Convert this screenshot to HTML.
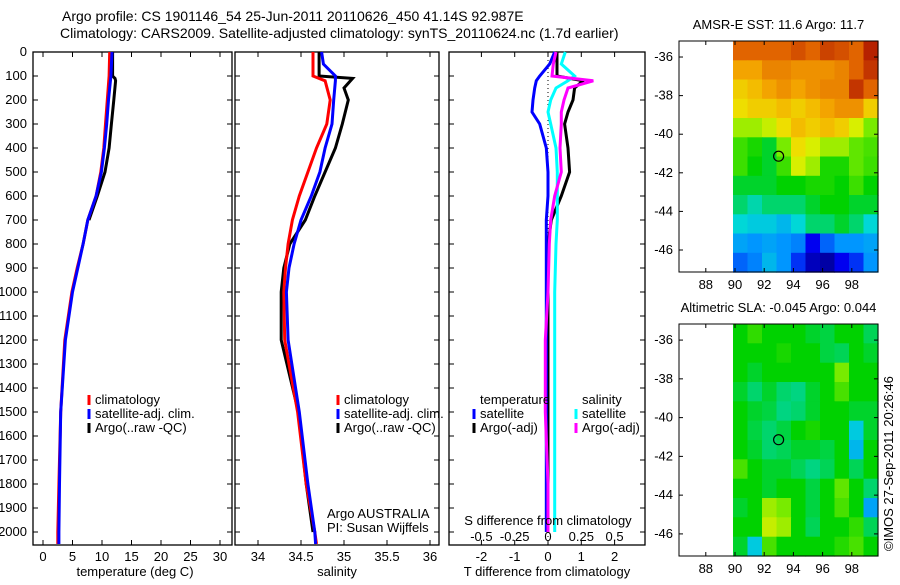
<!DOCTYPE html>
<html><head><meta charset="utf-8"><style>
body{margin:0;background:#fff;width:900px;height:580px;overflow:hidden}
svg text{font-family:"Liberation Sans",sans-serif;font-size:13px;fill:#000}
</style></head><body>
<svg id="c" width="900" height="580">
<text x="62" y="21" style="font-size:14px">Argo profile: CS 1901146_54 25-Jun-2011 20110626_450 41.14S 92.987E</text>
<text x="60" y="38" style="font-size:14px">Climatology: CARS2009. Satellite-adjusted climatology: synTS_20110624.nc (1.7d earlier)</text>
</svg>
<script>
const depthLabels=[0,100,200,300,400,500,600,700,800,900,1000,1100,1200,1300,1400,1500,1600,1700,1800,1900,2000];
const tTicks=[0,5,10,15,20,25,30];
const sTicks=[34,34.5,35,35.5,36];
const dTicks=[-2,-1,0,1,2];
const dsTicks=[-0.5,-0.25,0,0.25,0.5];
const tDepthC=[0,100,200,300,400,500,600,700,800,900,1000,1200,1500,1800,2000,2050];
const tClim=[11.3,11.2,10.9,10.6,10.3,9.8,9.0,7.6,6.8,5.8,4.9,3.7,3.0,2.7,2.5,2.5];
const tSat=[11.7,11.5,11.1,10.8,10.4,9.9,9.0,7.6,6.8,5.9,5.0,3.8,3.0,2.8,2.7,2.7];
const tDepthA=[0,100,110,120,200,300,400,500,600,700];
const tArgo=[11.8,11.8,12.2,12.3,12.0,11.6,11.2,10.5,9.2,7.8];
const sDepth=[0,50,100,120,200,300,400,500,600,700,800,900,1000,1200,1500,1800,2000,2050];
const sClim=[34.64,34.64,34.64,34.78,34.84,34.8,34.68,34.58,34.48,34.4,34.35,34.32,34.3,34.31,34.46,34.56,34.66,34.68];
const sSat=[34.74,34.76,34.9,34.9,34.88,34.86,34.78,34.72,34.62,34.5,34.42,34.36,34.33,34.35,34.48,34.58,34.66,34.67];
const sDepthA=[0,50,100,110,150,200,300,400,500,600,700,800,900,1000,1200,1500,1800,2000];
const sArgo=[34.71,34.71,34.71,35.1,35.0,35.05,34.98,34.9,34.78,34.66,34.55,34.37,34.3,34.27,34.27,34.47,34.56,34.64];
const dDepth=[0,50,100,120,150,200,250,300,400,500,600,700,800,1000,1200,1500,1800,2000];
const dTSat=[0.2,0.05,-0.25,-0.35,-0.4,-0.45,-0.48,-0.25,-0.05,0,0,-0.05,-0.05,-0.05,-0.05,-0.05,-0.05,-0.05];
const dTArgo=[0.27,0.27,0.27,1.05,0.8,0.75,0.6,0.5,0.6,0.65,0.4,0.1,0,0,0,0,0,0];
const dSSat=[0.13,0.1,0.2,0.15,0.06,0.02,0,0.02,0.06,0.07,0.07,0.07,0.06,0.05,0.05,0.05,0.05,0.05];
const dSArgo=[0.06,0.04,0.03,0.34,0.15,0.12,0.1,0.1,0.09,0.1,0.05,0.02,0.01,0.0,-0.02,-0.02,0,0];
const sstGrid=[
[0.85,0.85,0.85,0.85,0.88,0.85,0.9,0.88,0.85,0.95],
[0.75,0.75,0.8,0.8,0.78,0.78,0.78,0.8,0.85,0.92],
[0.7,0.72,0.75,0.78,0.75,0.78,0.8,0.8,0.92,0.85],
[0.68,0.7,0.7,0.72,0.7,0.72,0.75,0.78,0.78,0.7],
[0.62,0.62,0.64,0.68,0.72,0.7,0.72,0.7,0.65,0.6],
[0.55,0.52,0.48,0.6,0.68,0.65,0.62,0.62,0.58,0.56],
[0.55,0.5,0.48,0.55,0.65,0.62,0.52,0.52,0.58,0.55],
[0.48,0.48,0.48,0.5,0.5,0.52,0.52,0.5,0.55,0.5],
[0.45,0.42,0.45,0.45,0.45,0.48,0.5,0.5,0.48,0.48],
[0.4,0.38,0.38,0.35,0.4,0.45,0.45,0.48,0.45,0.4],
[0.32,0.3,0.32,0.3,0.28,0.15,0.25,0.3,0.3,0.32],
[0.25,0.28,0.35,0.3,0.2,0.08,0.05,0.15,0.2,0.3]];
const slaGrid=[
[0.5,0.54,0.5,0.5,0.5,0.48,0.47,0.5,0.5,0.46],
[0.5,0.5,0.5,0.52,0.5,0.5,0.47,0.46,0.5,0.48],
[0.5,0.48,0.5,0.5,0.5,0.5,0.5,0.6,0.5,0.5],
[0.48,0.45,0.48,0.45,0.44,0.48,0.5,0.56,0.5,0.5],
[0.5,0.48,0.47,0.44,0.45,0.48,0.5,0.5,0.48,0.48],
[0.5,0.47,0.45,0.47,0.5,0.52,0.5,0.5,0.38,0.48],
[0.5,0.48,0.45,0.46,0.48,0.48,0.47,0.5,0.35,0.5],
[0.56,0.5,0.48,0.48,0.46,0.44,0.46,0.5,0.46,0.5],
[0.5,0.5,0.48,0.5,0.5,0.47,0.5,0.58,0.5,0.45],
[0.48,0.5,0.62,0.6,0.5,0.47,0.5,0.56,0.5,0.32],
[0.5,0.5,0.64,0.62,0.5,0.46,0.5,0.5,0.54,0.46],
[0.48,0.38,0.56,0.5,0.5,0.5,0.5,0.53,0.56,0.5]];
const latTicks=[-36,-38,-40,-42,-44,-46];
const lonTicks=[88,90,92,94,96,98];

const svg=document.getElementById('c');const NS='http://www.w3.org/2000/svg';
function mk(t,a,txt){const e=document.createElementNS(NS,t);for(const k in a)e.setAttribute(k,a[k]);if(txt!==undefined)e.textContent=txt;svg.appendChild(e);return e;}
const Y0=52,Y1=545;const yD=d=>Y0+d*0.24;
function panel(name,x0,x1){const r=mk('rect',{x:x0,y:Y0,width:x1-x0,height:Y1-Y0,fill:'none',stroke:'#000','stroke-width':1.3});

depthLabels.forEach(d=>{const y=yD(d);const l=mk('line',{x1:x0,x2:x0+5,y1:y,y2:y,stroke:'#000'});
const l2=mk('line',{x1:x1-5,x2:x1,y1:y,y2:y,stroke:'#000'});});}
function xticks(vals,fx,lab,y){vals.forEach(v=>{const x=fx(v);
const a=mk('line',{x1:x,x2:x,y1:Y0,y2:Y0+5,stroke:'#000'});
const b=mk('line',{x1:x,x2:x,y1:Y1-5,y2:Y1,stroke:'#000'});
if(lab){const t=mk('text',{x:x,y:y,'text-anchor':'middle'},String(v));}});}
function line(name,xs,ds,fx,col,w){const p=xs.map((v,i)=>fx(v).toFixed(1)+','+yD(ds[i]).toFixed(1)).join(' ');
const e=mk('polyline',{points:p,fill:'none',stroke:col,'stroke-width':w||3});}
depthLabels.forEach(d=>{const t=mk('text',{x:27,y:yD(d)+4,'text-anchor':'end'},String(d));});
const fT=v=>43+5.9*v;
panel('temperature-panel',33,232);xticks(tTicks,fT,true,561);
line('temp-argo',tArgo,tDepthA,fT,'#000');line('temp-climatology',tClim,tDepthC,fT,'#f00');line('temp-satellite',tSat,tDepthC,fT,'#00f');
const fS=v=>258+86*(v-34);
panel('salinity-panel',235,439);xticks(sTicks,fS,true,561);
line('sal-argo',sArgo,sDepthA,fS,'#000');line('sal-climatology',sClim,sDepth,fS,'#f00');line('sal-satellite',sSat,sDepth,fS,'#00f');
const fD=v=>548+33.3*v, fDS=v=>548+133.2*v;
panel('difference-panel',449,645);xticks(dTicks,fD,true,561);
dsTicks.forEach(v=>{const t=mk('text',{x:fDS(v),y:541,'text-anchor':'middle'},String(v));});
const z=mk('line',{x1:fD(0),x2:fD(0),y1:Y0,y2:Y1,stroke:'#000','stroke-dasharray':'1,3'});
line('tdiff-argo',dTArgo,dDepth,fD,'#000');line('tdiff-satellite',dTSat,dDepth,fD,'#00f');
line('sdiff-satellite',dSSat,dDepth,fDS,'#0ff');line('sdiff-argo',dSArgo,dDepth,fDS,'#f0f');
[['temperature (deg C)',135],['salinity',337],['T difference from climatology',547]].forEach(([s,x])=>{const t=mk('text',{x:x,y:576,'text-anchor':'middle'},s);});
const st=mk('text',{x:548,y:525,'text-anchor':'middle'},'S difference from climatology');
function leg(x,y,col,s){const l=mk('line',{x1:x,x2:x,y1:y-9,y2:y+1,stroke:col,'stroke-width':3});
const t=mk('text',{x:x+6,y:y},s);}
[[89,'#f00','climatology'],[89,'#00f','satellite-adj. clim.'],[89,'#000','Argo(..raw -QC)']].forEach((a,i)=>leg(a[0],404+i*14,a[1],a[2]));
[[338,'#f00','climatology'],[338,'#00f','satellite-adj. clim.'],[338,'#000','Argo(..raw -QC)']].forEach((a,i)=>leg(a[0],404+i*14,a[1],a[2]));
let t1=mk('text',{x:480,y:404},'temperature');
t1=mk('text',{x:582,y:404},'salinity');
leg(474,418,'#00f','satellite');leg(474,432,'#000','Argo(-adj)');leg(576,418,'#0ff','satellite');leg(576,432,'#f0f','Argo(-adj)');
t1=mk('text',{x:327,y:518},'Argo AUSTRALIA');
t1=mk('text',{x:327,y:532},'PI: Susan Wijffels');
const stops=[[0,[0,0,128]],[0.15,[0,0,240]],[0.3,[0,150,255]],[0.4,[0,215,215]],[0.5,[0,210,0]],[0.6,[120,235,0]],[0.66,[235,240,0]],[0.74,[245,170,0]],[0.85,[225,100,0]],[1,[160,0,0]]];
function cmap(v){for(let i=1;i<stops.length;i++){if(v<=stops[i][0]){const a=stops[i-1],b=stops[i];const f=(v-a[0])/(b[0]-a[0]);return 'rgb('+a[1].map((c,k)=>Math.round(c+(b[1][k]-c)*f)).join(',')+')';}}return 'rgb(160,0,0)';}
function map(name,title,grid,top,bot){const x0=679,x1=878;const fx=lon=>735+14.6*(lon-90);
const dx0=733;const lonW=(x1-dx0)/grid[0].length;const rh=(bot-top)/grid.length;
grid.forEach((row,i)=>row.forEach((v,j)=>{const c=mk('rect',{x:(dx0+j*lonW).toFixed(1),y:(top+i*rh).toFixed(1),width:(lonW+0.6).toFixed(1),height:(rh+0.6).toFixed(1),fill:cmap(v)});}));
const r=mk('rect',{x:x0,y:top,width:x1-x0,height:bot-top,fill:'none',stroke:'#000'});
const dy=(bot-top)/11.97;const fy=l=>top+(-35.17-l)*dy;
latTicks.forEach(l=>{const yy=fy(l);const t=mk('text',{x:673,y:yy+4,'text-anchor':'end'},String(l));
const a=mk('line',{x1:x0,x2:x0+4,y1:yy,y2:yy,stroke:'#000'});
const b=mk('line',{x1:x1-4,x2:x1,y1:yy,y2:yy,stroke:'#000'});});
lonTicks.forEach(l=>{const x=fx(l);const t=mk('text',{x:x,y:bot+17,'text-anchor':'middle'},String(l));
const a=mk('line',{x1:x,x2:x,y1:top,y2:top+4,stroke:'#000'});
const b=mk('line',{x1:x,x2:x,y1:bot-4,y2:bot,stroke:'#000'});});
const ci=mk('circle',{cx:fx(92.987),cy:fy(-41.14),r:5,fill:'none',stroke:'#000','stroke-width':1.2});
const tt=mk('text',{x:(x0+x1)/2,y:top-12,'text-anchor':'middle'},title);}
map('sst-map','AMSR-E SST: 11.6 Argo: 11.7',sstGrid,41,272);
map('sla-map','Altimetric SLA: -0.045 Argo: 0.044',slaGrid,324,556);
const ts=mk('text',{x:0,y:0,transform:'translate(893,551) rotate(-90)'},'©IMOS 27-Sep-2011 20:26:46');
</script>
</body></html>
